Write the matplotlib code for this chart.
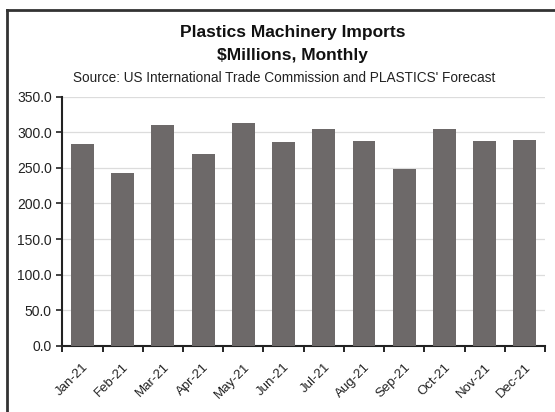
import matplotlib.pyplot as plt
from matplotlib.lines import Line2D
from matplotlib.ticker import FormatStrFormatter, FixedLocator, NullFormatter

# ---------------- data ----------------
months = ["Jan-21", "Feb-21", "Mar-21", "Apr-21", "May-21", "Jun-21",
          "Jul-21", "Aug-21", "Sep-21", "Oct-21", "Nov-21", "Dec-21"]
imports = [284, 243, 310, 270, 313, 287, 305, 288, 249, 305, 288, 289]

plt.rcParams["font.family"] = ["Liberation Sans", "DejaVu Sans"]

fig = plt.figure(figsize=(5.55, 4.12), dpi=100)
ax = fig.add_axes([0.1123, 0.161, 0.8697, 0.604])

x = range(len(months))
ax.bar(x, imports, width=0.57, color="#6d6969", zorder=3)

ax.set_xlim(-0.5, len(months) - 0.5)
ax.set_ylim(0, 350)
ax.set_yticks(range(0, 351, 50))
ax.yaxis.set_major_formatter(FormatStrFormatter("%.1f"))
ax.grid(axis="y", color="#dcdcdc", lw=0.9, zorder=0)

ax.set_xticks(list(x))
ax.set_xticklabels(months, rotation=45, ha="right", rotation_mode="anchor")
ax.tick_params(axis="x", length=0, pad=11, labelsize=9.5, colors="#222222")
ax.xaxis.set_minor_locator(FixedLocator([i - 0.5 for i in range(len(months) + 1)]))
ax.xaxis.set_minor_formatter(NullFormatter())
ax.tick_params(axis="x", which="minor", length=4, width=1.2, direction="out")
ax.tick_params(axis="y", length=4, width=1.2, labelsize=10, colors="#222222")

for s in ["top", "right"]:
    ax.spines[s].set_visible(False)
for s in ["left", "bottom"]:
    ax.spines[s].set_linewidth(1.5)
    ax.spines[s].set_color("#222222")

fig.text(0.527, 0.922, "Plastics Machinery Imports", ha="center", va="center",
         fontsize=12.5, fontweight="bold", color="#111111")
fig.text(0.527, 0.866, "$Millions, Monthly", ha="center", va="center",
         fontsize=12.5, fontweight="bold", color="#111111")
fig.text(0.512, 0.81, "Source: US International Trade Commission and PLASTICS' Forecast",
         ha="center", va="center", fontsize=9.8, color="#222222")

# outer frame (cropped screenshot of a chart box)
fig.add_artist(Line2D([0.013, 0.013], [0.0, 0.975], color="#333333", lw=2))
fig.add_artist(Line2D([0.013, 1.0], [0.975, 0.975], color="#333333", lw=2))

fig.savefig("out.png", dpi=100)
